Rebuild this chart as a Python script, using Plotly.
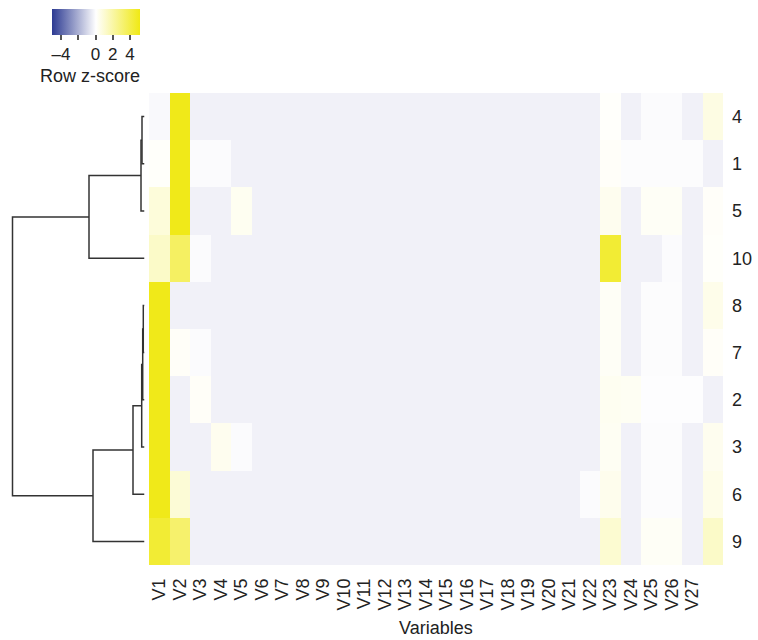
import plotly.graph_objects as go

W, H = 758, 640

# Samples (rows, in dendrogram order) and variables (columns)
row_labels = ["4", "1", "5", "10", "8", "7", "2", "3", "6", "9"]
col_labels = ["V1", "V2", "V3", "V4", "V5", "V6", "V7", "V8", "V9", "V10",
              "V11", "V12", "V13", "V14", "V15", "V16", "V17", "V18", "V19",
              "V20", "V21", "V22", "V23", "V24", "V25", "V26", "V27", ""]

# Row z-scores, one list per sample (V1 .. V27 and the trailing column)
z_row_4 = [-0.15, 5.0, -0.35, -0.35, -0.35, -0.35, -0.35, -0.35, -0.35, -0.35,
           -0.35, -0.35, -0.35, -0.35, -0.35, -0.35, -0.35, -0.35, -0.35, -0.35,
           -0.35, -0.35, 0.08, -0.35, -0.1, -0.1, -0.35, 0.6]
z_row_1 = [0.1, 5.0, -0.1, -0.1, -0.35, -0.35, -0.35, -0.35, -0.35, -0.35,
           -0.35, -0.35, -0.35, -0.35, -0.35, -0.35, -0.35, -0.35, -0.35, -0.35,
           -0.35, -0.35, 0.12, -0.08, -0.08, -0.08, -0.08, -0.35]
z_row_5 = [0.8, 5.0, -0.35, -0.35, 0.3, -0.35, -0.35, -0.35, -0.35, -0.35,
           -0.35, -0.35, -0.35, -0.35, -0.35, -0.35, -0.35, -0.35, -0.35, -0.35,
           -0.35, -0.35, 0.35, -0.35, 0.2, 0.2, -0.35, 0.12]
z_row_10 = [1.2, 3.4, -0.1, -0.35, -0.35, -0.35, -0.35, -0.35, -0.35, -0.35,
            -0.35, -0.35, -0.35, -0.35, -0.35, -0.35, -0.35, -0.35, -0.35, -0.35,
            -0.35, -0.35, 4.4, -0.35, -0.35, -0.1, -0.35, 0.1]
z_row_8 = [5.0, -0.35, -0.35, -0.35, -0.35, -0.35, -0.35, -0.35, -0.35, -0.35,
           -0.35, -0.35, -0.35, -0.35, -0.35, -0.35, -0.35, -0.35, -0.35, -0.35,
           -0.35, -0.35, 0.2, -0.35, -0.08, -0.08, -0.35, 0.45]
z_row_7 = [5.0, 0.15, -0.1, -0.35, -0.35, -0.35, -0.35, -0.35, -0.35, -0.35,
           -0.35, -0.35, -0.35, -0.35, -0.35, -0.35, -0.35, -0.35, -0.35, -0.35,
           -0.35, -0.35, 0.2, -0.35, -0.08, -0.08, -0.35, 0.15]
z_row_2 = [5.0, -0.35, 0.15, -0.35, -0.35, -0.35, -0.35, -0.35, -0.35, -0.35,
           -0.35, -0.35, -0.35, -0.35, -0.35, -0.35, -0.35, -0.35, -0.35, -0.35,
           -0.35, -0.35, 0.3, 0.25, -0.05, -0.05, -0.05, -0.35]
z_row_3 = [5.0, -0.35, -0.35, 0.35, -0.1, -0.35, -0.35, -0.35, -0.35, -0.35,
           -0.35, -0.35, -0.35, -0.35, -0.35, -0.35, -0.35, -0.35, -0.35, -0.35,
           -0.35, -0.35, 0.25, -0.35, -0.08, -0.08, -0.35, 0.35]
z_row_6 = [5.0, 0.9, -0.35, -0.35, -0.35, -0.35, -0.35, -0.35, -0.35, -0.35,
           -0.35, -0.35, -0.35, -0.35, -0.35, -0.35, -0.35, -0.35, -0.35, -0.35,
           -0.35, -0.1, 0.4, -0.35, -0.08, -0.08, -0.35, 0.5]
z_row_9 = [4.4, 3.2, -0.35, -0.35, -0.35, -0.35, -0.35, -0.35, -0.35, -0.35,
           -0.35, -0.35, -0.35, -0.35, -0.35, -0.35, -0.35, -0.35, -0.35, -0.35,
           -0.35, -0.35, 1.0, -0.35, 0.2, 0.2, -0.35, 1.2]

z = [z_row_4, z_row_1, z_row_5, z_row_10, z_row_8,
     z_row_7, z_row_2, z_row_3, z_row_6, z_row_9]

# Row clustering: (left, right, merge height); merged nodes are named n0, n1, ...
merges = [
    ("4", "1", 2.5),     # n0
    ("n0", "5", 3.5),    # n1
    ("n1", "10", 55.5),  # n2
    ("8", "7", 1.2),     # n3
    ("n3", "2", 1.8),    # n4
    ("n4", "3", 2.8),    # n5
    ("n5", "6", 11.5),   # n6
    ("n6", "9", 51.5),   # n7
    ("n2", "n7", 132.0), # root
]

# Dendrogram segments
node_pos = {lab: (i, 0.0) for i, lab in enumerate(row_labels)}
dx, dy = [], []
for k, (a, b, h) in enumerate(merges):
    ya, ha = node_pos[a]
    yb, hb = node_pos[b]
    dx += [ha, h, h, hb, None]
    dy += [ya, ya, yb, yb, None]
    node_pos[f"n{k}"] = ((ya + yb) / 2, h)

FONT = "Liberation Sans, Arial, sans-serif"
TXT = "#222222"

x_left, x_right = 149, 723
y_top, y_bot = 93, 565
leaf_px = 144.5

fig = go.Figure()

fig.add_trace(go.Heatmap(
    z=z,
    x=list(range(len(col_labels))),
    y=list(range(len(row_labels))),
    zmin=-5.1, zmax=5.1,
    colorscale=[[0.0, "#2C3A92"], [0.5, "#FFFFFF"], [1.0, "#F0E914"]],
    hoverinfo="skip",
    colorbar=dict(
        orientation="h",
        x=51.5 / W, xanchor="left",
        y=1 - 8.5 / H, yanchor="top",
        lenmode="pixels", len=87.5,
        thicknessmode="pixels", thickness=26,
        xpad=0, ypad=0,
        outlinewidth=0,
        tickvals=[-4, -2, 0, 2, 4],
        ticktext=["\u20134", "", "0", "2", "4"],
        ticks="outside", ticklen=5, tickwidth=1.5, tickcolor="#555555",
        tickfont=dict(family=FONT, size=17, color=TXT),
    ),
))

fig.add_trace(go.Scatter(
    x=dx, y=dy, xaxis="x2", yaxis="y",
    mode="lines", line=dict(color="#333333", width=1.5),
    hoverinfo="skip", showlegend=False,
))

fig.update_layout(
    width=W, height=H,
    margin=dict(l=0, r=0, t=0, b=0),
    paper_bgcolor="white", plot_bgcolor="white",
    font=dict(family=FONT, color=TXT),
    xaxis=dict(
        domain=[x_left / W, x_right / W],
        range=[-0.5, len(col_labels) - 0.5],
        tickvals=list(range(len(col_labels))),
        ticktext=col_labels,
        tickangle=-90,
        tickfont=dict(family=FONT, size=18, color=TXT),
        ticks="", ticklabelstandoff=9,
        showgrid=False, zeroline=False, showline=False,
        anchor="y",
    ),
    yaxis=dict(
        domain=[1 - y_bot / H, 1 - y_top / H],
        range=[len(row_labels) - 0.5, -0.5],
        tickvals=list(range(len(row_labels))),
        ticktext=row_labels,
        side="right",
        tickfont=dict(family=FONT, size=18, color=TXT),
        ticks="", ticklabelstandoff=8,
        showgrid=False, zeroline=False, showline=False,
        anchor="x",
    ),
    xaxis2=dict(
        domain=[0, leaf_px / W],
        range=[leaf_px, 0],
        visible=False, showgrid=False, zeroline=False,
        anchor="y",
    ),
    annotations=[
        dict(text="Row z-score", x=89.5 / W, y=1 - 76 / H,
             xref="paper", yref="paper", xanchor="center", yanchor="middle",
             showarrow=False, font=dict(family=FONT, size=18, color=TXT)),
        dict(text="Variables", x=(x_left + x_right) / 2 / W, y=1 - 628 / H,
             xref="paper", yref="paper", xanchor="center", yanchor="middle",
             showarrow=False, font=dict(family=FONT, size=18, color=TXT)),
    ],
)

fig.write_html("out.html")
